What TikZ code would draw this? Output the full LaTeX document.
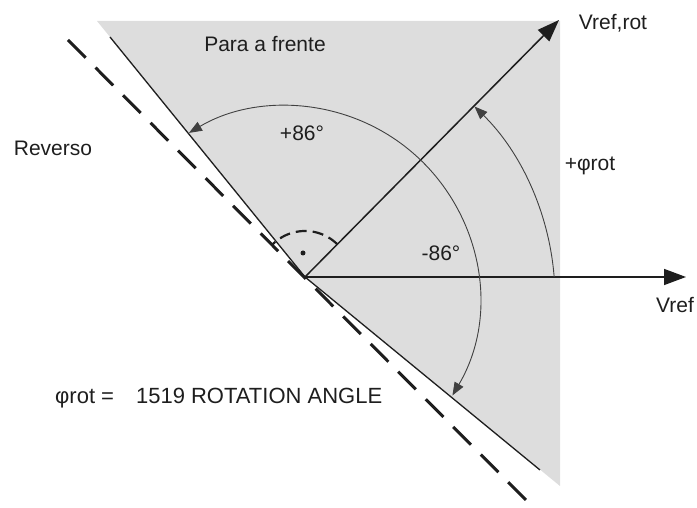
\documentclass[tikz,border=0pt]{standalone}
\usepackage{fontspec}
\setmainfont{Liberation Sans}
\usetikzlibrary{arrows.meta}
\definecolor{sector}{RGB}{221,221,221}
\definecolor{ink}{RGB}{30,30,30}
\begin{document}
\begin{tikzpicture}[x=1pt,y=1pt,
  lbl/.style={font=\fontsize{21}{25}\selectfont, text=ink, inner sep=0pt},
  vec/.style={line width=1.5pt, draw=ink, -{Triangle[length=22pt,width=16pt]}},
  edgeline/.style={draw=ink, line width=1.3pt},
  reverseline/.style={draw=ink, line width=3pt, dash pattern=on 25pt off 14pt},
  rightmark/.style={draw=ink, line width=2.2pt, dash pattern=on 11pt off 6pt},
  anglearc/.style={draw=ink!85, line width=0.9pt},
  arctip/.tip={Triangle[length=13pt,width=10pt]}]
\useasboundingbox (0,0) rectangle (697,508);
% key points
\coordinate (O) at (305,231);
\coordinate (C) at (287,210);
\coordinate (vref) at (686,231);
\coordinate (vrot) at (559,488);
\coordinate (g1) at (97,487);
\coordinate (g2) at (560,487);
\coordinate (g3) at (560,22);
\coordinate (s1) at (110,471);
\coordinate (s2) at (540,38);
\coordinate (d1) at (68,468);
\coordinate (d2) at (530,4);
% forward sector
\fill[sector] (O) -- (g1) -- (g2) -- (g3) -- cycle;
% limits
\draw[edgeline] (s1) -- (O) -- (s2);
\draw[reverseline] (d1) -- (d2);
% right angle mark
\draw[rightmark] (O) ++(45.5:46) arc[start angle=45.5, end angle=136, radius=46];
\fill[ink] (303,255) circle (2.5);
% vectors
\draw[vec] (O) -- (vref);
\draw[vec] (O) -- (vrot);
% angle arcs
\draw[anglearc, arctip-arctip] (C) ++(-30.5:192) arc[start angle=-30.5, end angle=120.7, radius=192];
\draw[anglearc, -arctip] (C) ++(4.5:268) arc[start angle=4.5, end angle=45.6, radius=268];
% labels
\node[lbl] (fwd) at (265,464) {Para a frente};
\node[lbl] (pos) at (302,375) {+86°};
\node[lbl] (rev) at (53,360) {Reverso};
\node[lbl] (phi) at (590,342) {+φrot};
\node[lbl] (neg) at (441,255) {-86°};
\node[lbl] (lref) at (675,203) {Vref};
\node[lbl] (lrot) at (613,485) {Vref,rot};
\node[lbl, anchor=west, font=\fontsize{22}{26}\selectfont] (note) at (55,110) {φrot =\hspace{22pt}1519 ROTATION ANGLE};
\end{tikzpicture}
\end{document}
